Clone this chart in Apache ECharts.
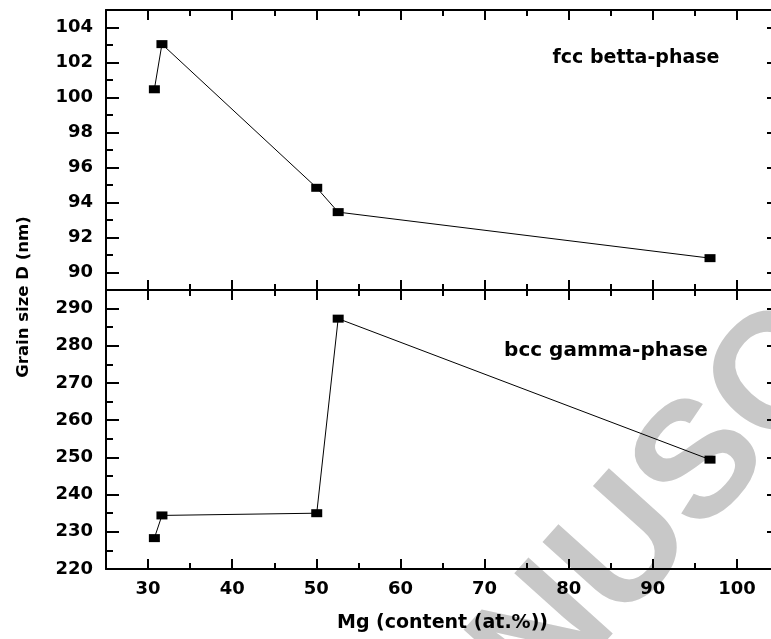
<!DOCTYPE html>
<html>
<head>
<meta charset="utf-8">
<script src="https://cdn.jsdelivr.net/npm/echarts@6/dist/echarts.min.js"></script>
<style>
html,body{margin:0;padding:0;background:#fff;}
#chart{width:771px;height:639px;}
</style>
</head>
<body>
<div id="chart"></div>
<script>
// ---- data ----
const mgContent = [30.75, 31.65, 50.05, 52.6, 96.8];
const betaGrain = [100.47, 103.05, 94.84, 93.45, 90.82];
const gammaGrain = [228.3, 234.4, 235.0, 287.3, 249.4];

const xMajorTicks = [30, 40, 50, 60, 70, 80, 90, 100];
const xMinorTicks = [35, 45, 55, 65, 75, 85, 95];
const betaMajorTicks = [90, 92, 94, 96, 98, 100, 102, 104];
const betaMinorTicks = [91, 93, 95, 97, 99, 101, 103];
const gammaMajorTicks = [220, 230, 240, 250, 260, 270, 280, 290];
const gammaMinorTicks = [225, 235, 245, 255, 265, 275, 285];

const xTitle = 'Mg (content (at.%))';
const yTitle = 'Grain size D (nm)';
const betaLabel = 'fcc betta-phase';
const gammaLabel = 'bcc gamma-phase';
const watermark = 'MANUSCRIPT';

const FONT = '"DejaVu Sans", sans-serif';
const lineStyle = { color: '#000', width: 2 };

function xAxis(grid, position, ticks, len, main, labels) {
  return {
    type: 'value', gridIndex: grid, position: position,
    min: 25, max: 105,
    axisLine: { show: main, onZero: false, lineStyle: lineStyle },
    axisTick: { show: true, inside: true, length: len, customValues: ticks, lineStyle: lineStyle },
    axisLabel: labels ? {
      show: true, customValues: xMajorTicks, margin: 11,
      fontFamily: FONT, fontWeight: 'bold', fontSize: 18, color: '#000'
    } : { show: false },
    splitLine: { show: false },
    name: labels ? xTitle : '',
    nameLocation: 'middle', nameGap: 45,
    nameTextStyle: { fontFamily: FONT, fontWeight: 'bold', fontSize: 19, color: '#000' }
  };
}
function yAxis(grid, position, min, max, ticks, len, main, labelTicks) {
  return {
    type: 'value', gridIndex: grid, position: position,
    min: min, max: max,
    axisLine: { show: main, onZero: false, lineStyle: lineStyle },
    axisTick: { show: true, inside: true, length: len, customValues: ticks, lineStyle: lineStyle },
    axisLabel: labelTicks ? {
      show: true, customValues: labelTicks, margin: 13,
      fontFamily: FONT, fontWeight: 'bold', fontSize: 18, color: '#000'
    } : { show: false },
    splitLine: { show: false }
  };
}

const chart = echarts.init(document.getElementById('chart'), null, { renderer: 'canvas' });
chart.setOption({
  animation: false,
  backgroundColor: '#fff',
  grid: [
    { left: 106, top: 10, width: 673, height: 280, containLabel: false, outerBoundsMode: 'none' },
    { left: 106, top: 290, width: 673, height: 279, containLabel: false, outerBoundsMode: 'none' }
  ],
  xAxis: [
    xAxis(0, 'top', xMajorTicks, 10, true, false),
    xAxis(0, 'top', xMinorTicks, 6, false, false),
    xAxis(0, 'bottom', xMajorTicks, 10, true, false),
    xAxis(0, 'bottom', xMinorTicks, 6, false, false),
    xAxis(1, 'top', xMajorTicks, 10, true, false),
    xAxis(1, 'top', xMinorTicks, 6, false, false),
    xAxis(1, 'bottom', xMajorTicks, 10, true, true),
    xAxis(1, 'bottom', xMinorTicks, 6, false, false)
  ],
  yAxis: [
    yAxis(0, 'left', 89, 105, betaMajorTicks, 13, true, betaMajorTicks),
    yAxis(0, 'left', 89, 105, betaMinorTicks, 7, false, null),
    yAxis(0, 'right', 89, 105, betaMajorTicks, 12, true, null),
    yAxis(1, 'left', 220, 295, gammaMajorTicks, 13, true, gammaMajorTicks),
    yAxis(1, 'left', 220, 295, gammaMinorTicks, 7, false, null),
    yAxis(1, 'right', 220, 295, gammaMajorTicks, 12, true, null)
  ],
  series: [
    {
      type: 'line', xAxisIndex: 0, yAxisIndex: 0,
      data: mgContent.map((x, i) => [x, betaGrain[i]]),
      symbol: 'rect', symbolSize: [11, 8],
      itemStyle: { color: '#000' },
      lineStyle: { color: '#000', width: 1 },
      z: 5
    },
    {
      type: 'line', xAxisIndex: 6, yAxisIndex: 3,
      data: mgContent.map((x, i) => [x, gammaGrain[i]]),
      symbol: 'rect', symbolSize: [11, 8],
      itemStyle: { color: '#000' },
      lineStyle: { color: '#000', width: 1 },
      z: 5
    }
  ],
  graphic: [
    {
      type: 'text', z: -100, x: 335, y: 874, rotation: 48 * Math.PI / 180,
      style: {
        text: watermark,
        font: 'bold 165px "Liberation Sans", Arial, sans-serif',
        fill: '#c8c8c8', textAlign: 'left', textVerticalAlign: 'middle'
      },
      silent: true
    },
    {
      type: 'text', x: 24, y: 297, rotation: Math.PI / 2,
      style: {
        text: yTitle, font: 'bold 16.5px ' + FONT, fill: '#000',
        textAlign: 'center', textVerticalAlign: 'middle'
      }
    },
    {
      type: 'text', x: 636, y: 58,
      style: {
        text: betaLabel, font: 'bold 19px ' + FONT, fill: '#000',
        textAlign: 'center', textVerticalAlign: 'middle'
      }
    },
    {
      type: 'text', x: 606, y: 351,
      style: {
        text: gammaLabel, font: 'bold 20px ' + FONT, fill: '#000',
        textAlign: 'center', textVerticalAlign: 'middle'
      }
    }
  ]
});
</script>
</body>
</html>
